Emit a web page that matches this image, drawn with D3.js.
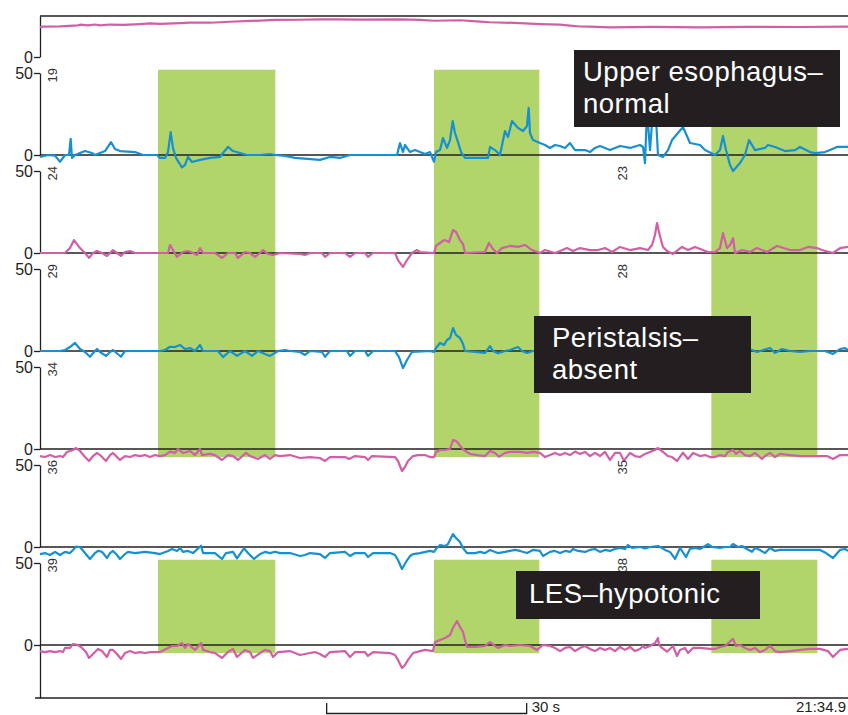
<!DOCTYPE html>
<html>
<head>
<meta charset="utf-8">
<script src="https://cdn.jsdelivr.net/npm/d3@7"></script>
<style>
  html, body { margin: 0; padding: 0; background: #fff; }
  svg { display: block; font-family: "Liberation Sans", Arial, Helvetica, sans-serif; }
</style>
</head>
<body>
<svg id="chart" width="848" height="715"></svg>
<script>
// ---------------------------------------------------------------
// Manometry traces: [time (s), pressure (mmHg)]
// ---------------------------------------------------------------
const duration = 121.2;          // seconds shown in the window
const endTime = "21:34.9";        // clock time at the right edge
const scaleBarStart = 43;         // s
const scaleBarLength = 30;        // s

// wet swallows (shaded intervals, s)
const swallows = [[17.7, 35.3], [59.1, 74.9], [100.7, 116.6]];

// channel numbers printed beside each trace (left / right)
const leftLabels  = ["", "19", "24", "29", "34", "36", "39"];
const rightLabels = ["", "",   "23", "28", "",   "35", "38"];

const pharynx = [[0,18.1],[0.3,18.5],[3,18.7],[5.7,19.3],[6,19.7],[7.2,19.3],[8.25,19.8],[9,19.3],[10.5,19.8],[12.5,19.6],[15,20.1],[16.5,20.5],[18,20.2],[21,20.7],[22.5,21],[25.5,20.9],[28.5,21.5],[31.5,22],[33.75,22.3],[35.25,22.6],[39,22.7],[42,22.9],[44.25,23],[48,22.8],[54,23],[57,22.6],[59.25,22.1],[63,22.4],[66,21.6],[67.5,21.2],[72,20.7],[75,20.1],[78,19.7],[79.5,19.1],[81,18.6],[82.5,18.5],[85.5,18.1],[92,18.4],[99,18.1],[106,18.4],[114,18.3],[121.2,18.5]];

const sensor19 = [[0,-1.2],[1.2,0],[2.25,-0.4],[3,-4.1],[3.75,0],[4.35,0],[4.6,9.8],[4.8,-1.8],[5.25,0],[6.75,2.4],[7.8,1.2],[8.25,0],[9,1.2],[9.75,2.4],[10.65,7.9],[11.25,3.7],[12,2.4],[14.25,1.8],[15.45,0],[17.55,0],[18,-1.8],[18.75,-1.8],[19.2,1.8],[19.6,14],[19.95,4.3],[20.4,-1.8],[21.3,-7.6],[21.75,-6.1],[22.2,-1.2],[22.8,-4.3],[24,-3],[25.5,-1.8],[27,-1.2],[27.45,1.2],[28.2,4.9],[28.95,2.4],[30,1.2],[31.05,0],[33,0],[34.5,0.6],[35.25,0],[36.75,-0.6],[38.25,-1.8],[42,-3],[43.5,-1.2],[45,-1.8],[46.5,0],[51,0],[53.55,0],[54,7.3],[54.45,1.8],[54.75,6.1],[55.5,1.8],[56.25,3],[57.75,0.6],[58.5,1.8],[59.1,-4.1],[59.4,1.8],[60,3],[60.45,10.4],[61.05,4.3],[61.5,9.1],[61.9,20.7],[62.25,13.4],[62.7,7.9],[63.15,1.8],[63.75,-1.8],[67.2,-1.8],[67.5,4.9],[68.25,3],[69,0],[69.75,14.6],[70.2,11],[70.8,20.7],[71.7,16.5],[72.45,14.6],[73.05,17.7],[73.3,28.7],[73.5,13.4],[73.95,9.1],[75,7.3],[75.75,6.1],[76.5,4.3],[77.25,6.1],[78,5.5],[78.75,4.3],[79.5,7.3],[80.25,3],[81.75,3],[82.5,1.8],[83.25,4.3],[84,5.5],[85.5,3],[87,5.5],[88.5,4.3],[90,6.1],[90.45,4.9],[90.75,-4.9],[91.05,27.4],[91.5,3],[91.95,27.4],[92.4,22.6],[92.7,0],[93.45,-1.2],[94.2,3],[94.8,9.1],[96.45,17.1],[97.5,7.3],[99,6.1],[99.75,3],[101.25,0],[102,3],[102.45,11.6],[102.9,3],[103.5,-6.1],[103.95,-9.8],[105,-4.9],[105.75,0],[106.35,9.1],[107.25,3],[108.75,4.3],[109.2,6.1],[110.25,4.9],[111.75,2.4],[113.25,3],[114,4.9],[115.5,1.8],[116.25,1.2],[117.75,1.8],[118.5,3],[119.55,4.9],[121.2,4.9]];

const sensor24 = [[0,0],[3.75,0],[4.5,3],[5.1,7.9],[6,3],[6.75,0],[7.35,-3],[7.95,0],[8.55,1.2],[9.3,0],[10.05,-1.8],[10.95,1.8],[11.55,0],[12.15,-1.8],[12.75,0.6],[13.5,1.2],[14.25,0],[19.2,0],[19.5,4.9],[19.95,1.8],[20.55,-2.4],[21.45,0.6],[22.2,1.2],[22.95,0],[23.55,-1.2],[24,3],[24.45,0],[26.25,0],[27.3,-3],[28.2,0],[29.25,0],[29.7,-3],[30.75,0.6],[31.5,0],[32.25,-2.4],[33,0],[33.45,1.8],[34.2,-0.6],[34.95,-1.2],[36,0],[39,-0.6],[39.75,-1.2],[40.5,0],[42.3,0],[42.75,-2.4],[43.5,0],[45.75,0],[46.5,-2.4],[47.25,0],[48.75,0],[49.2,-2.4],[49.95,0],[53.25,0],[53.7,-4.3],[54.45,-8.5],[55.05,-4.3],[55.8,0],[56.55,1.8],[57,0.6],[59.1,0],[59.4,4.3],[60,6.1],[60.6,7.9],[61.05,7.3],[61.35,6.7],[61.95,14],[62.4,12.8],[63,7.9],[63.45,5.5],[63.75,0],[66.75,0.6],[67.35,6.1],[67.95,2.4],[68.55,0],[69.3,3],[70.5,4.3],[71.7,3.7],[72.75,4.9],[73.8,1.8],[75,0],[75.75,1.8],[77.25,0],[78,1.2],[79.05,3],[79.95,1.2],[81,3],[82.5,1.8],[83.7,1.8],[84.75,3],[85.8,0.6],[87,3.7],[88.5,1.8],[90,3],[91.2,1.8],[91.8,4.9],[92.25,11],[92.55,18.3],[92.85,12.8],[93.15,7.9],[93.45,3.7],[94.05,1.2],[94.95,-0.6],[96.3,3.7],[97.2,1.8],[98.25,3.7],[100.2,0.6],[101.25,0.6],[102,3],[102.45,12.2],[103.05,3],[103.5,4.9],[103.95,9.1],[104.25,0],[105.3,1.8],[106.5,0.6],[107.55,3],[109.05,0.6],[110.55,4.3],[112.5,1.8],[114,1.8],[115.2,3.7],[116.55,3],[117.3,1.8],[118.95,0],[120,3],[121.2,3.7]];

const sensor29 = [[0,0],[3,0],[3.75,0.6],[4.5,2.4],[5.25,4.9],[6,1.2],[6.75,-0.6],[7.5,-3.5],[8.25,0],[8.55,1.2],[9,-0.6],[9.9,-3],[10.5,-0.6],[10.95,0.6],[12.15,-3.5],[12.75,0],[18,0],[18.75,0.6],[19.5,2.6],[20.25,2.4],[21,3.7],[21.75,1.2],[22.5,1.8],[23.25,0],[24,3.7],[24.45,0],[26.7,0],[27.45,-3.7],[28.5,0],[29.55,-3],[30.75,0],[31.8,-3],[32.7,0],[33.75,-1.8],[34.5,-3],[35.7,0],[36.75,0.6],[37.5,0],[39,-0.6],[39.75,-2.4],[40.5,0],[42.3,-0.6],[42.75,-3.5],[43.5,0],[46.05,0],[46.5,-3],[47.25,0],[48.75,0],[49.2,-3],[49.95,0],[53.25,0],[53.85,-3.7],[54.45,-10.4],[55.05,-5.5],[55.8,-0.6],[58.5,0],[59.1,-0.6],[59.4,1.8],[60,4.9],[60.6,3.7],[61.05,6.7],[61.5,7.9],[61.95,14],[62.4,9.8],[63,7.9],[63.45,4.3],[63.75,0],[66.75,-1.2],[67.5,3],[67.95,0],[68.7,-1.4],[69.75,0],[70.5,0.6],[71.7,2.4],[72.3,0],[73.05,-1.2],[73.95,0],[78,0.6],[84,-0.6],[91.5,0.6],[99,0],[105,0.6],[106.8,0.6],[107.55,-0.6],[109.5,1.8],[110.25,-1.2],[111.3,1.2],[112.5,0],[114,-0.6],[115.5,0],[117.75,0],[118.95,-1.8],[120,1.2],[120.75,1.8],[121.2,0.6]];

const sensor34 = [[0,-4.3],[0.75,-4.9],[1.5,-3.7],[2.25,-4.9],[3,-4.3],[3.45,-4.9],[4.05,-1.8],[4.95,-0.6],[5.4,0.6],[6,-1.2],[6.75,-4.9],[7.35,-7.3],[7.95,-4.3],[8.55,-2.4],[9,-3.7],[9.9,-7.3],[10.5,-3.7],[10.95,-2.4],[11.55,-4.9],[12,-6.7],[12.75,-4.3],[13.5,-4.9],[14.25,-3.7],[15,-4.3],[15.75,-3.7],[16.5,-4.9],[17.25,-3.7],[18,-4.3],[18.75,-3.7],[19.5,-1.6],[20.25,-2.4],[20.7,0],[21.45,-2.4],[22.5,-1.2],[23.25,-3.7],[24,0],[24.3,-3.7],[25.5,-3],[26.25,-3.7],[27.3,-6.7],[28.2,-3.7],[28.95,-4.3],[29.7,-6.7],[30.9,-2.4],[31.5,-4.3],[32.7,-6.1],[33.75,-3.7],[34.5,-6.1],[35.25,-3.7],[36,-4.3],[37.5,-3.7],[39,-5.5],[40.5,-4.9],[42,-5.5],[42.75,-7.3],[43.5,-4.9],[45.75,-4.9],[46.35,-6.1],[47.25,-4.3],[48.75,-4.9],[49.2,-6.7],[49.8,-4.3],[53.25,-4.9],[53.7,-7.3],[54.3,-13.4],[54.75,-11],[55.2,-7.3],[55.95,-4.3],[56.7,-3.7],[57.75,-3.7],[58.5,-4.9],[59.1,-4.9],[59.4,-1.8],[60,-0.6],[60.75,-0.6],[61.5,0],[61.95,5.5],[62.4,4.9],[62.7,3.7],[63.15,1.2],[63.6,-0.6],[64.5,-3],[65.55,-3.7],[66.75,-4.3],[67.5,-1.2],[68.25,-2.4],[68.85,-4.7],[69.75,-2.4],[70.5,-1.8],[72,-1.8],[73.05,-2.4],[73.95,-1.8],[75,-2.4],[75.75,-4.9],[76.5,-3.7],[77.25,-2.4],[78,-3.7],[78.75,-2.4],[79.5,-3.7],[80.25,-1.6],[81,-3],[81.75,-1.8],[82.5,-4.3],[83.25,-2.4],[84,-4.3],[84.75,-1.8],[85.5,-6.7],[86.25,-2.4],[87,-2.4],[87.6,-7.1],[88.5,-2.4],[89.25,-4.3],[90,-4.9],[90.75,-3],[91.5,-1.8],[92.25,-0.6],[92.7,0.6],[93.45,-1.8],[94.2,-4.3],[94.8,-4.9],[95.55,-7.3],[96.45,-2.3],[97.2,-6.1],[97.95,-2.4],[99,-4.3],[99.75,-3.7],[100.5,-4.9],[101.25,-4.9],[102,-3.7],[102.75,-4.3],[103.2,-1.8],[103.95,-0.6],[104.4,-3],[105,-1.2],[105.75,-3.7],[106.5,-4.3],[107.25,-2.4],[108.3,-6.1],[108.75,-4.3],[109.5,-2.4],[110.25,-4.9],[111,-3],[112.5,-3.7],[114,-4.3],[117,-4.3],[118.05,-4.3],[118.95,-6.1],[120,-3.7],[121.2,-3.7]];

const sensor36 = [[0,-4.3],[0.75,-3.7],[1.5,-4.9],[2.25,-3],[3,-4.9],[3.75,-3],[4.5,-3.7],[4.95,-1.8],[5.4,0.2],[6,0],[6.75,-3.7],[7.5,-7.3],[8.25,-3.7],[8.7,-2.3],[9.3,-3],[10.05,-6.7],[10.5,-3.7],[10.95,-2.4],[11.55,-4.9],[12,-7.3],[12.75,-4.3],[13.2,-3],[14.25,-3.7],[15.75,-3],[17.25,-3.7],[18,-4.3],[19.2,-2.4],[19.8,-1.2],[20.55,-2.4],[21,-0.6],[21.45,-3],[22.2,-2.4],[22.95,-3.7],[24.15,0.8],[24.45,-3.7],[26.25,-3.7],[27.3,-7.3],[27.9,-3.7],[28.95,-3],[29.55,-6.9],[30.6,-0.8],[31.2,-3.7],[32.1,-7.3],[33,-4.3],[33.75,-3],[34.5,-3.7],[35.25,-2.9],[36,-3.7],[37.5,-3.7],[39,-5.5],[39.75,-4.9],[40.5,-3.7],[42,-4.3],[42.75,-6.7],[43.5,-3.7],[45.75,-3],[46.5,-5.5],[47.25,-3.7],[48.75,-3.7],[49.2,-6.1],[49.95,-3.7],[52.5,-3.7],[53.25,-4.9],[53.7,-7.9],[54.3,-13.4],[54.9,-9.1],[55.5,-5.5],[55.95,-4.3],[57,-3.7],[58.5,-2.4],[59.1,-3],[59.4,-1.2],[60,1.2],[60.75,0.6],[61.2,1.8],[61.5,4.3],[61.95,7.9],[62.4,5.5],[63,3],[63.45,-0.6],[64.05,-3.7],[65.25,-3.7],[66,-3],[66.75,-3.7],[67.5,-1.8],[68.25,-3],[68.7,-3.7],[69.75,-3],[70.5,-2.4],[71.25,-1.8],[72,-2.4],[73.05,-3.7],[73.95,-1.8],[75,-2.4],[75.45,-5.5],[76.5,-3],[77.25,-2.4],[78,-3.7],[78.75,-2.4],[79.5,-3],[79.95,-1.2],[80.7,-2.4],[81.75,-3],[82.5,-1.8],[83.25,-1.2],[84,-3],[84.75,-1.8],[85.5,-2.4],[86.25,-1.2],[87,-0.6],[87.75,-1.2],[88.2,1.2],[88.8,-0.6],[90,0],[90.75,-0.8],[91.5,0],[92.7,0.6],[93.3,-0.6],[93.75,-1.8],[94.5,-3],[95.25,-7.3],[96,-0.6],[96.9,-6.1],[97.5,-1.2],[98.25,-0.6],[99,-1.2],[99.75,0.6],[100.2,1.8],[100.8,0],[102,-0.6],[102.75,0],[103.5,0],[103.95,1.8],[104.7,0],[105.3,0.6],[105.75,-0.6],[106.8,-2.9],[107.25,-0.6],[108,-1.8],[108.75,-3.7],[109.5,-0.6],[110.25,-2.4],[111,-1.8],[117,-1.8],[117.9,-3.7],[118.95,-6.7],[120,-1.8],[120.75,-1.2],[121.2,-2.4]];

const sensor39 = [[0,-3.7],[0.75,-4.3],[1.5,-3.7],[2.25,-4.3],[3,-3.7],[3.45,-4.3],[3.75,-1.8],[4.5,-1.8],[4.95,0.6],[5.7,0],[6.3,-1.8],[6.9,-4.3],[7.35,-7.9],[8.25,-4.3],[8.7,-2.4],[9.3,-3.7],[10.05,-7.3],[10.5,-3],[10.95,-3],[11.55,-5.5],[12.15,-8.5],[12.75,-4.9],[13.5,-3.7],[14.25,-4.9],[15,-4.3],[15.75,-4.9],[16.5,-4.3],[18,-4.3],[19.2,-1.8],[19.8,-0.6],[20.55,-0.6],[21.3,1.2],[21.75,-1.8],[22.2,0.6],[23.25,-3],[24.15,1.2],[24.45,-3],[25.5,-4.3],[26.25,-4.9],[27.3,-7.9],[28.2,-4.3],[28.95,-2.4],[29.55,-7.3],[30.75,-3],[31.5,-4.3],[31.95,-7.9],[33,-4.9],[33.75,-3],[34.5,-3.7],[34.95,-7.3],[35.7,-4.3],[37.5,-3.7],[39,-6.1],[40.5,-4.9],[41.25,-4.3],[42,-5.5],[42.75,-7.3],[43.5,-4.3],[45.75,-3.7],[46.5,-7.3],[47.25,-4.3],[48.75,-4.3],[49.2,-6.7],[49.95,-4.3],[52.5,-4.9],[53.25,-6.1],[53.7,-9.1],[54.3,-14],[54.75,-12.2],[55.2,-9.1],[55.95,-4.9],[57,-3.7],[57.75,-3],[58.95,-3.7],[59.25,1.8],[60,3],[60.75,4.3],[61.5,6.1],[61.95,10.4],[62.55,14.6],[63,11],[63.45,7.9],[63.75,3],[64.05,-1.2],[65.25,-1.2],[66.75,-0.6],[67.5,1.8],[68.25,-0.6],[68.7,-1.8],[69.75,0],[70.5,-0.6],[72,0],[73.5,-0.6],[74.55,-3],[75.45,0],[76.5,-0.6],[77.25,-1.8],[78,-3.7],[78.75,-1.8],[79.5,-1.2],[80.25,-3.7],[81,-1.8],[81.75,-0.6],[82.5,-2.4],[83.25,-3.7],[84,-1.8],[84.75,-3],[85.5,-1.8],[86.25,-3.7],[87,-1.2],[87.75,-3],[88.5,-1.2],[89.25,-3.7],[90,-2.4],[90.45,-0.6],[90.75,-1.8],[91.5,-0.6],[92.25,1.2],[92.7,4.3],[92.85,0],[93.3,-1.8],[94.05,-4.1],[94.95,-0.6],[95.55,-6.7],[96,-3],[96.75,-1.8],[97.2,-4.9],[97.95,-1.8],[99,-1.8],[100.5,-2.4],[101.25,-2.4],[102,-1.2],[102.75,-0.6],[103.95,3.7],[104.4,-0.6],[105,0],[105.75,-1.8],[106.5,-3],[107.25,-1.8],[108,-4.3],[108.75,-3],[109.5,-0.6],[110.25,-3.7],[111,-4.3],[112.5,-3.7],[114,-3],[115.5,-2.4],[117,-2.4],[118.2,-3.7],[118.95,-7.3],[120,-3],[121.2,-2.4]];

const traces = [pharynx, sensor19, sensor24, sensor29, sensor34, sensor36, sensor39];
const traceColors = ["#d25fa5", "#1591d2", "#d25fa5", "#1591d2", "#d25fa5", "#1591d2", "#d25fa5"];

// annotation boxes
const notes = [
  { lines: ["Upper esophagus\u2013", "normal"], x: 574, y: 50, w: 266, h: 77, inset: 9 },
  { lines: ["Peristalsis\u2013", "absent"],     x: 534, y: 316, w: 217, h: 77, inset: 18 },
  { lines: ["LES\u2013hypotonic"],              x: 516, y: 571, w: 244, h: 48, inset: 13 }
];

// ---------------------------------------------------------------
// layout
// ---------------------------------------------------------------
const plotLeft = 40, plotRight = 848;
const frameTop = 16, frameBottom = 698;
const firstZero = 57, panelStep = 98, fiftySpan = 82;
const ink = "#231f20";
const shade = "#b1d46b";

const svg = d3.select("#chart");

const x = d3.scaleLinear().domain([0, duration]).range([plotLeft, plotRight]);
const yScales = traces.map((_, i) => {
  const z = firstZero + i * panelStep;
  return d3.scaleLinear().domain([0, 50]).range([z, z - fiftySpan]);
});

// shaded swallow windows: one band over channels 19-34, one over 39
const bands = [
  { top: yScales[1](52), bottom: yScales[4](-5) },
  { top: yScales[6](52), bottom: yScales[6](-5) }
];
const gShade = svg.append("g");
bands.forEach(b => {
  gShade.selectAll(null).data(swallows).join("rect")
    .attr("x", d => x(d[0]))
    .attr("width", d => x(d[1]) - x(d[0]))
    .attr("y", b.top)
    .attr("height", b.bottom - b.top)
    .attr("fill", shade);
});

// frame lines
svg.append("line").attr("x1", plotLeft).attr("x2", plotRight)
  .attr("y1", frameTop).attr("y2", frameTop)
  .attr("stroke", ink).attr("stroke-width", 1.3);
svg.append("line").attr("x1", plotLeft - 5).attr("x2", plotRight)
  .attr("y1", frameBottom).attr("y2", frameBottom)
  .attr("stroke", ink).attr("stroke-width", 1.3);

// zero baselines
const gZero = svg.append("g");
yScales.forEach((y, i) => {
  if (i === 0) return;
  gZero.append("line").attr("x1", plotLeft).attr("x2", plotRight)
    .attr("y1", y(0)).attr("y2", y(0))
    .attr("stroke", ink).attr("stroke-width", 1.3);
});

// per-channel y axes
yScales.forEach((y, i) => {
  let lo = 0, hi = 50, ticks = [0, 50];
  if (i === 0) { hi = y.invert(frameTop); ticks = [0]; }
  if (i === traces.length - 1) { lo = y.invert(frameBottom); }
  const ax = d3.scaleLinear().domain([lo, hi]).range([y(lo), y(hi)]);
  const g = svg.append("g").attr("transform", `translate(${plotLeft},0)`)
    .call(d3.axisLeft(ax).tickValues(ticks).tickSize(6).tickSizeOuter(0).tickPadding(1).tickFormat(d3.format("d")));
  g.select(".domain").attr("stroke", ink).attr("stroke-width", 1.3);
  g.selectAll(".tick line").attr("stroke", ink).attr("stroke-width", 1.3);
  g.selectAll(".tick text").attr("fill", ink).attr("font-size", 16)
    .attr("font-family", "Liberation Sans, Arial, sans-serif");
});

// traces
const gTr = svg.append("g");
traces.forEach((tr, i) => {
  const y = yScales[i];
  const line = d3.line().x(d => x(d[0])).y(d => y(d[1]));
  gTr.append("path").datum(tr)
    .attr("d", line)
    .attr("fill", "none")
    .attr("stroke", traceColors[i])
    .attr("stroke-width", 2.2)
    .attr("stroke-linejoin", "round");
});

// channel numbers (rotated)
const gLab = svg.append("g").attr("font-size", 13).attr("fill", "#333");
yScales.forEach((y, i) => {
  const top = y(50) - 5;
  [[leftLabels[i], plotLeft + 17], [rightLabels[i], 627]].forEach(([txt, bx]) => {
    if (!txt) return;
    gLab.append("text")
      .attr("transform", `translate(${bx},${top}) rotate(-90)`)
      .attr("text-anchor", "end")
      .text(txt);
  });
});

// annotation boxes
const gNote = svg.append("g");
notes.forEach(n => {
  gNote.append("rect").attr("x", n.x).attr("y", n.y).attr("width", n.w).attr("height", n.h)
    .attr("fill", ink);
  const t = gNote.append("text").attr("fill", "#fff").attr("font-size", 27.5)
    .attr("letter-spacing", 0.5);
  n.lines.forEach((s, k) => {
    t.append("tspan").attr("x", n.x + n.inset)
      .attr("y", n.y + (n.lines.length === 1 ? 32 : 31 + k * 32)).text(s);
  });
});

// time scale bar and clock time
const bx0 = x(scaleBarStart), bx1 = x(scaleBarStart + scaleBarLength);
svg.append("path")
  .attr("d", `M${bx0},703V713.5H${bx1}V703`)
  .attr("fill", "none").attr("stroke", ink).attr("stroke-width", 1.3);
svg.append("text").attr("x", bx1 + 5).attr("y", 712)
  .attr("font-size", 15).attr("fill", ink).text(`${scaleBarLength} s`);
svg.append("text").attr("x", plotRight - 2).attr("y", 712)
  .attr("text-anchor", "end").attr("font-size", 15).attr("fill", ink).text(endTime);
</script>
</body>
</html>
